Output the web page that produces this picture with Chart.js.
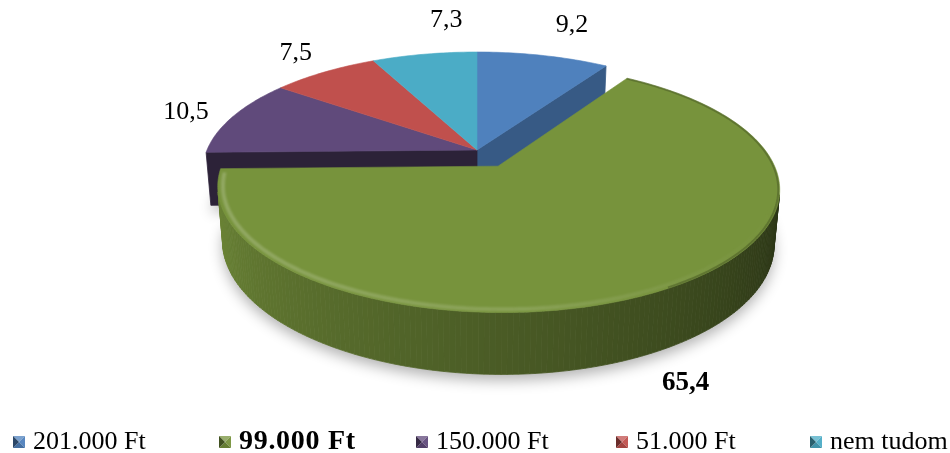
<!DOCTYPE html>
<html>
<head>
<meta charset="utf-8">
<script src="https://cdn.jsdelivr.net/npm/chart.js@4/dist/chart.umd.min.js"></script>
<style>
  html, body { margin: 0; padding: 0; background: #fff; overflow: hidden; }
  canvas { display: block; }
</style>
</head>
<body>
<canvas id="chart" width="950" height="453"></canvas>
<script>
// Income categories and their shares (%)
const categories = ['201.000 Ft', '99.000 Ft', '150.000 Ft', '51.000 Ft', 'nem tudom'];
const shares = [9.2, 65.4, 10.5, 7.5, 7.3];
// The emphasised category: pulled out of the pie, bold in the legend and label
const emphasised = [false, true, false, false, false];
const topColors = ['#4f81bd', '#77933c', '#604a7b', '#c0504d', '#4bacc6'];

// Perspective view of the pie disc (unit radius), in canvas pixels
const view = { cx: 477, cy: 150, scale: 270, tiltSin: 0.4255, tiltCos: 0.905, persp: 0.1905, depth: 0.22, explode: 0.157 };
// Label placement: distance beyond the rim plus small per-label nudges
const labelGap = 40;
const labelNudge = [[6, 2], [3, 1], [-7, 1], [7, -1], [41, 1]];
// Legend layout
const legendIconX = [13, 219, 416, 616, 810];
const legendY = 436, legendIcon = 12, legendTextGap = 20;
const fontFamily = "'Liberation Serif', 'Times New Roman', serif";

const fmt = v => v.toFixed(1).replace('.', ',');

function shade(hex, f) {
  const n = parseInt(hex.slice(1), 16);
  let r = (n >> 16) & 255, g = (n >> 8) & 255, b = n & 255;
  if (f <= 1) { r *= f; g *= f; b *= f; }
  else { const k = f - 1; r += (255 - r) * k; g += (255 - g) * k; b += (255 - b) * k; }
  return `rgb(${Math.round(r)},${Math.round(g)},${Math.round(b)})`;
}

function project(u, v, h) {
  const z = 1 - view.persp * (v * view.tiltCos + h * view.tiltSin);
  return [view.cx + view.scale * u / z, view.cy + view.scale * (v * view.tiltSin - h * view.tiltCos) / z];
}

// camera position along the near axis of the disc
const camV = view.tiltCos / view.persp;
const facesCamera = (px, py, nx, ny) => (-px) * nx + (camV - py) * ny > 0;

function facePath(ctx, s, h) {
  const step = Math.PI / 180;
  ctx.beginPath();
  let p = project(s.ox, s.oy, h);
  ctx.moveTo(p[0], p[1]);
  for (let t = s.a0; ; t += step) {
    const tt = Math.min(t, s.a1);
    p = project(s.ox + Math.cos(tt), s.oy + Math.sin(tt), h);
    ctx.lineTo(p[0], p[1]);
    if (tt >= s.a1) break;
  }
  ctx.closePath();
}

function quad(ctx, pts, color) {
  ctx.beginPath();
  ctx.moveTo(pts[0][0], pts[0][1]);
  for (let k = 1; k < pts.length; k++) ctx.lineTo(pts[k][0], pts[k][1]);
  ctx.closePath();
  ctx.fillStyle = color;
  ctx.strokeStyle = color;
  ctx.lineWidth = 0.8;
  ctx.lineJoin = 'round';
  ctx.fill();
  ctx.stroke();
}

function drawWalls(ctx, s, prevOpen, nextOpen) {
  const d = -view.depth;
  const base = topColors[s.i];
  // radial walls, only where the neighbouring slice does not hide them
  const radial = [];
  if (prevOpen) radial.push({ a: s.a0, nx: Math.sin(s.a0), ny: -Math.cos(s.a0) });
  if (nextOpen) radial.push({ a: s.a1, nx: -Math.sin(s.a1), ny: Math.cos(s.a1) });
  radial.forEach(w => {
    if (!facesCamera(s.ox, s.oy, w.nx, w.ny)) return;
    const rx = s.ox + Math.cos(w.a), ry = s.oy + Math.sin(w.a);
    quad(ctx, [project(s.ox, s.oy, 0), project(rx, ry, 0), project(rx, ry, d), project(s.ox, s.oy, d)],
      shade(base, 0.45 + 0.3 * Math.max(0, w.nx)));
  });
  // outer curved wall
  const step = Math.PI / 180;
  for (let t = s.a0; t < s.a1; t += step) {
    const t2 = Math.min(t + step, s.a1), tm = (t + t2) / 2;
    const nx = Math.cos(tm), ny = Math.sin(tm);
    if (!facesCamera(s.ox + nx, s.oy + ny, nx, ny)) continue;
    let deg = tm * 180 / Math.PI; deg = ((deg % 360) + 360) % 360;
    const f = 0.36 + 0.52 * Math.min(1, Math.max(0, (deg - 15) / 150));
    const u1 = s.ox + Math.cos(t), v1 = s.oy + Math.sin(t);
    const u2 = s.ox + Math.cos(t2), v2 = s.oy + Math.sin(t2);
    quad(ctx, [project(u1, v1, 0), project(u2, v2, 0), project(u2, v2, d), project(u1, v1, d)], shade(base, f));
  }
}

const pie3d = {
  id: 'pie3d',
  beforeDatasetsDraw(chart) {
    const ctx = chart.ctx;
    const meta = chart.getDatasetMeta(0);
    const n = meta.data.length;
    const slices = meta.data.map((arc, i) => {
      const a0 = arc.startAngle, a1 = arc.endAngle, mid = (a0 + a1) / 2;
      const off = emphasised[i] ? view.explode : 0;
      return { i, a0, a1, mid, off, ox: off * Math.cos(mid), oy: off * Math.sin(mid) };
    });
    const ordered = slices.filter(s => !s.off).concat(slices.filter(s => s.off));

    ctx.save();
    // soft shadow beneath the solid
    ordered.forEach(s => {
      ctx.save();
      ctx.shadowColor = 'rgba(0,0,0,0.30)';
      ctx.shadowBlur = 14;
      ctx.shadowOffsetY = 6;
      ctx.fillStyle = '#ffffff';
      facePath(ctx, s, -view.depth);
      ctx.fill();
      ctx.restore();
    });
    // side walls, back slices first
    ordered.forEach(s => {
      const prev = slices[(s.i - 1 + n) % n], next = slices[(s.i + 1) % n];
      const open = !!s.off;
      drawWalls(ctx, s, open || !!prev.off, open || !!next.off);
    });
    // top faces
    ordered.forEach(s => {
      facePath(ctx, s, 0);
      ctx.fillStyle = topColors[s.i];
      ctx.strokeStyle = topColors[s.i];
      ctx.lineWidth = 0.6;
      ctx.fill();
      ctx.stroke();
    });
    // bevel: light along the front rim, a darker edge on the right
    slices.filter(s => s.off).forEach(s => {
      const step = Math.PI / 180;
      const from = Math.max(s.a0, 20 * Math.PI / 180), to = Math.min(s.a1, 177 * Math.PI / 180);
      ctx.save();
      ctx.beginPath();
      for (let t = from; t <= to; t += step) {
        const p = project(s.ox + 0.982 * Math.cos(t), s.oy + 0.982 * Math.sin(t), 0);
        if (t === from) ctx.moveTo(p[0], p[1]); else ctx.lineTo(p[0], p[1]);
      }
      const g = ctx.createLinearGradient(780, 0, 220, 0);
      g.addColorStop(0, 'rgba(255,255,255,0)');
      g.addColorStop(0.45, 'rgba(255,255,255,0.14)');
      g.addColorStop(1, 'rgba(255,255,255,0.20)');
      ctx.strokeStyle = g;
      ctx.lineWidth = 4;
      ctx.filter = 'blur(1px)';
      ctx.stroke();
      ctx.restore();
      ctx.beginPath();
      const to2 = 60 * Math.PI / 180;
      for (let t = s.a0; t <= to2; t += step) {
        const p = project(s.ox + 0.995 * Math.cos(t), s.oy + 0.995 * Math.sin(t), 0);
        if (t === s.a0) ctx.moveTo(p[0], p[1]); else ctx.lineTo(p[0], p[1]);
      }
      ctx.strokeStyle = 'rgba(0,0,0,0.2)';
      ctx.lineWidth = 2;
      ctx.stroke();
    });

    // value labels outside each slice
    slices.forEach(s => {
      const h = s.off ? -view.depth : 0;
      const rim = project(s.ox + Math.cos(s.mid), s.oy + Math.sin(s.mid), h);
      const from = project(s.ox, s.oy, 0);
      const dx = rim[0] - from[0], dy = rim[1] - from[1];
      const len = Math.hypot(dx, dy) || 1;
      const x = rim[0] + dx / len * labelGap + labelNudge[s.i][0];
      const y = rim[1] + dy / len * labelGap + labelNudge[s.i][1];
      ctx.font = emphasised[s.i] ? `bold 27px ${fontFamily}` : `26px ${fontFamily}`;
      ctx.fillStyle = '#000';
      ctx.textAlign = 'center';
      ctx.textBaseline = 'middle';
      ctx.fillText(fmt(shares[s.i]), x, y);
    });
    ctx.restore();
    return false;
  },
  afterDraw(chart) {
    const ctx = chart.ctx;
    ctx.save();
    categories.forEach((name, i) => {
      const x = legendIconX[i], y = legendY, s = legendIcon;
      const cx = x + s / 2, cy = y + s / 2, col = topColors[i];
      const tri = (pts, f) => {
        ctx.beginPath();
        ctx.moveTo(pts[0][0], pts[0][1]);
        ctx.lineTo(pts[1][0], pts[1][1]);
        ctx.lineTo(cx, cy);
        ctx.closePath();
        ctx.fillStyle = shade(col, f);
        ctx.fill();
      };
      tri([[x, y], [x + s, y]], 1.25);
      tri([[x + s, y], [x + s, y + s]], 1.05);
      tri([[x + s, y + s], [x, y + s]], 0.85);
      tri([[x, y + s], [x, y]], 0.55);
      ctx.font = emphasised[i] ? `bold 28px ${fontFamily}` : `26px ${fontFamily}`;
      ctx.letterSpacing = emphasised[i] ? '0.7px' : '0px';
      ctx.fillStyle = '#000';
      ctx.textAlign = 'left';
      ctx.textBaseline = 'alphabetic';
      ctx.fillText(name, x + legendTextGap, 449);
    });
    ctx.letterSpacing = '0px';
    ctx.restore();
  }
};

new Chart(document.getElementById('chart'), {
  type: 'pie',
  data: {
    labels: categories,
    datasets: [{ data: shares, backgroundColor: topColors, borderWidth: 0 }]
  },
  options: {
    responsive: false,
    animation: false,
    events: [],
    plugins: { legend: { display: false }, tooltip: { enabled: false } }
  },
  plugins: [pie3d]
});
</script>
</body>
</html>
